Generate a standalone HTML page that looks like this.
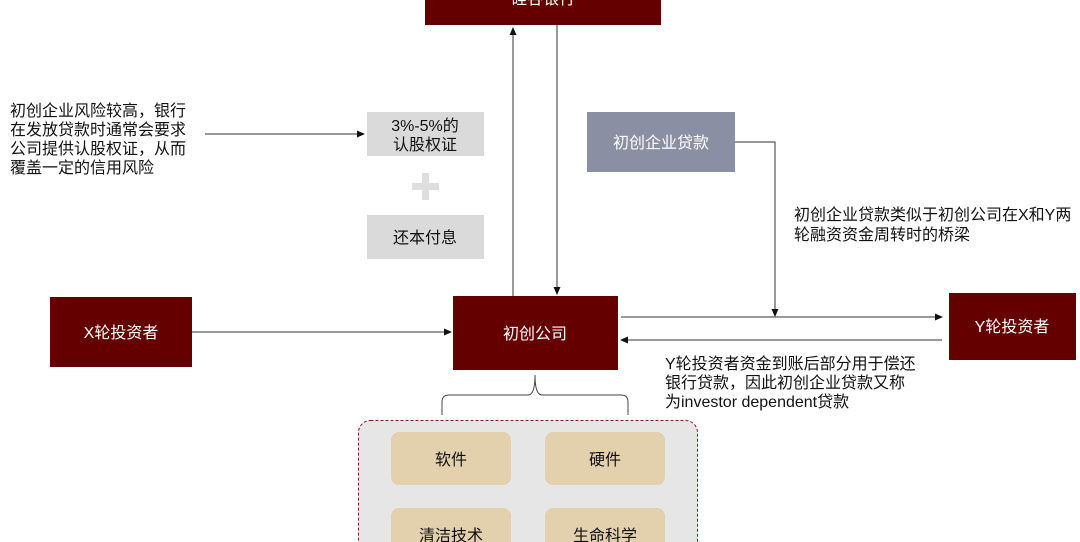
<!DOCTYPE html>
<html><head><meta charset="utf-8"><style>
html,body{margin:0;padding:0;background:#fff;}
svg{display:block;font-family:"Liberation Sans","Noto Sans CJK SC",sans-serif;}
</style></head><body>
<svg width="1080" height="542" viewBox="0 0 1080 542" xmlns="http://www.w3.org/2000/svg">
<defs><marker id="a" markerWidth="8" markerHeight="8" refX="7" refY="4" orient="auto" markerUnits="userSpaceOnUse"><path d="M0,0.5 L8,4 L0,7.5Z" fill="#111"/></marker></defs>
<rect x="425" y="-20" width="236" height="45" fill="#640000"/>
<text x="543" y="4" fill="#fff" font-size="16" text-anchor="middle">硅谷银行</text>
<line x1="513" y1="296" x2="513" y2="28" stroke="#333" stroke-width="1" marker-end="url(#a)"/>
<line x1="557" y1="25" x2="557" y2="294" stroke="#333" stroke-width="1" marker-end="url(#a)"/>
<rect x="367" y="112" width="117" height="44" fill="#dadada"/>
<text x="425" y="131" font-size="16" text-anchor="middle" fill="#111">3%-5%的</text>
<text x="425" y="150" font-size="16" text-anchor="middle" fill="#111">认股权证</text>
<rect x="412" y="183" width="27" height="7" fill="#dedede"/><rect x="422" y="173" width="7" height="27" fill="#dedede"/>
<rect x="367" y="215" width="117" height="44" fill="#dadada"/>
<text x="425" y="243" font-size="16" text-anchor="middle" fill="#111">还本付息</text>
<text font-size="16" fill="#111"><tspan x="10" y="116">初创企业风险较高，银行</tspan><tspan x="10" y="135">在发放贷款时通常会要求</tspan><tspan x="10" y="154">公司提供认股权证，从而</tspan><tspan x="10" y="173">覆盖一定的信用风险</tspan></text>
<line x1="205" y1="134" x2="364" y2="134" stroke="#333" marker-end="url(#a)"/>
<rect x="587" y="112" width="148" height="60" fill="#8b8fa3"/>
<text x="661" y="148" fill="#fff" font-size="16" text-anchor="middle">初创企业贷款</text>
<polyline points="735,142 775,142 775,316" fill="none" stroke="#333" marker-end="url(#a)"/>
<text font-size="16" fill="#111"><tspan x="794" y="220">初创企业贷款类似于初创公司在X和Y两</tspan><tspan x="794" y="240">轮融资资金周转时的桥梁</tspan></text>
<rect x="50" y="297" width="142" height="70" fill="#640000"/>
<text x="121" y="338" fill="#fff" font-size="16" text-anchor="middle">X轮投资者</text>
<line x1="192" y1="332" x2="451" y2="332" stroke="#333" marker-end="url(#a)"/>
<rect x="453" y="296" width="165" height="74" fill="#640000"/>
<text x="535" y="339" fill="#fff" font-size="16" text-anchor="middle">初创公司</text>
<line x1="621" y1="317" x2="942" y2="317" stroke="#333" marker-end="url(#a)"/>
<line x1="942" y1="340" x2="621" y2="340" stroke="#333" marker-end="url(#a)"/>
<rect x="949" y="293" width="127" height="67" fill="#640000"/>
<text x="1012" y="332" fill="#fff" font-size="16" text-anchor="middle">Y轮投资者</text>
<text font-size="16" fill="#111"><tspan x="665" y="369">Y轮投资者资金到账后部分用于偿还</tspan><tspan x="665" y="388">银行贷款，因此初创企业贷款又称</tspan><tspan x="665" y="407">为investor dependent贷款</tspan></text>
<path d="M442,415 L442,402 Q442,395 449,395 L528,395 Q535,395 535,375 Q535,395 542,395 L621,395 Q628,395 628,402 L628,415" fill="none" stroke="#444" stroke-width="1"/>
<rect x="358.5" y="420.5" width="339" height="140" rx="12" fill="#e6e6e6" stroke="#8b1a1a" stroke-dasharray="3,2"/>
<rect x="391" y="432" width="120" height="53" rx="8" fill="#e3d0ad"/>
<text x="451" y="465" font-size="16" text-anchor="middle" fill="#111">软件</text>
<rect x="545" y="432" width="120" height="53" rx="8" fill="#e3d0ad"/>
<text x="605" y="465" font-size="16" text-anchor="middle" fill="#111">硬件</text>
<rect x="391" y="508" width="120" height="53" rx="8" fill="#e3d0ad"/>
<text x="451" y="541" font-size="16" text-anchor="middle" fill="#111">清洁技术</text>
<rect x="545" y="508" width="120" height="53" rx="8" fill="#e3d0ad"/>
<text x="605" y="541" font-size="16" text-anchor="middle" fill="#111">生命科学</text>
</svg>
</body></html>
